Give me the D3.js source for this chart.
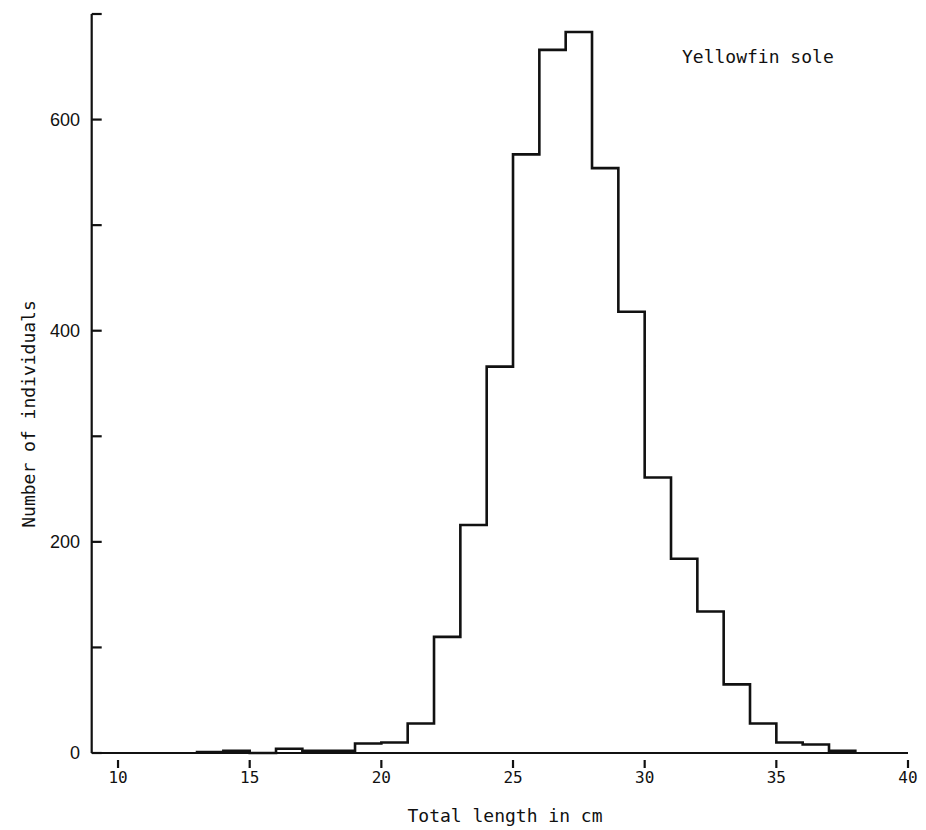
<!DOCTYPE html>
<meta charset="utf-8">
<style>
    body { margin: 0; background: #fff; }
    svg { display: block; }
    .mono { font-family: "DejaVu Sans Mono", monospace; fill: #111; }
    .sans { font-family: "Liberation Sans", Arial, sans-serif; fill: #111; }
    path.hist { fill: none; stroke: #111; stroke-width: 2.6; }
    line.axis { stroke: #111; stroke-width: 2.2; }
</style>
<body>
<script src="https://cdn.jsdelivr.net/npm/d3@7"></script>
<script>

// length classes (lower edge, cm) and counts
var binStart = [13, 14, 15, 16, 17, 18, 19, 20, 21, 22, 23, 24, 25,
                26, 27, 28, 29, 30, 31, 32, 33, 34, 35, 36, 37];
var counts   = [1, 2, 0, 4, 2, 2, 9, 10, 28, 110, 216, 366, 567,
                666, 683, 554, 418, 261, 184, 134, 65, 28, 10, 8, 2];
var binWidth = 1;

var xTicks = [10, 15, 20, 25, 30, 35, 40];
var yTicks = [0, 100, 200, 300, 400, 500, 600, 700];
var yLabels = [0, 200, 400, 600];

var width = 926, height = 830;

var x = d3.scaleLinear().domain([9, 40]).range([91.7, 908]);
var y = d3.scaleLinear().domain([0, 700]).range([753, 14]);

var svg = d3.select("body").append("svg")
        .attr("width", width)
        .attr("height", height);

// histogram outline
var pts = [];
binStart.forEach(function(b, i) { pts.push([b, counts[i]]); });
var last = binStart[binStart.length - 1] + binWidth;
pts.push([last, 0]);

var line = d3.line()
        .x(function(d) { return x(d[0]); })
        .y(function(d) { return y(d[1]); })
        .curve(d3.curveStepAfter);

svg.append("path")
        .attr("class", "hist")
        .attr("d", "M" + x(binStart[0]) + "," + y(0) + line(pts).replace(/^M/, "L"));

// y axis
svg.append("line").attr("class", "axis")
        .attr("x1", x(9)).attr("x2", x(9))
        .attr("y1", y(700)).attr("y2", y(0));

svg.selectAll("line.ytick").data(yTicks).enter().append("line")
        .attr("class", "axis ytick")
        .attr("x1", x(9)).attr("x2", x(9) + 10)
        .attr("y1", function(d) { return y(d); })
        .attr("y2", function(d) { return y(d); });

svg.selectAll("text.ylab").data(yLabels).enter().append("text")
        .attr("class", "sans ylab")
        .attr("x", 80)
        .attr("y", function(d) { return y(d); })
        .attr("dy", "0.35em")
        .attr("text-anchor", "end")
        .style("font-size", "18px")
        .text(function(d) { return d; });

// x axis baseline and detached ticks
svg.append("line").attr("class", "axis")
        .attr("x1", x(9)).attr("x2", x(40))
        .attr("y1", y(0)).attr("y2", y(0));

svg.selectAll("line.xtick").data(xTicks).enter().append("line")
        .attr("class", "axis xtick")
        .attr("x1", function(d) { return x(d); })
        .attr("x2", function(d) { return x(d); })
        .attr("y1", 760).attr("y2", 768);

svg.selectAll("text.xlab").data(xTicks).enter().append("text")
        .attr("class", "mono xlab")
        .attr("x", function(d) { return x(d); })
        .attr("y", 783)
        .attr("text-anchor", "middle")
        .style("font-size", "16px")
        .text(function(d) { return d; });

// titles
svg.append("text")
        .attr("class", "mono")
        .attr("x", 505).attr("y", 822)
        .attr("text-anchor", "middle")
        .style("font-size", "18px")
        .text("Total length in cm");

svg.append("text")
        .attr("class", "mono")
        .attr("transform", "translate(35,414) rotate(-90)")
        .attr("text-anchor", "middle")
        .style("font-size", "18px")
        .text("Number of individuals");

svg.append("text")
        .attr("class", "mono")
        .attr("x", 682).attr("y", 63)
        .style("font-size", "18px")
        .text("Yellowfin sole");

</script>
</body>
